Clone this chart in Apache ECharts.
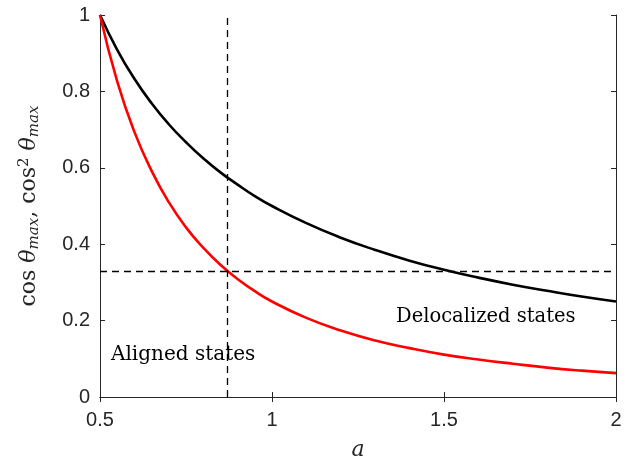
<!DOCTYPE html>
<html>
<head>
<meta charset="utf-8">
<script src="https://cdn.jsdelivr.net/npm/echarts@6/dist/echarts.min.js"></script>
<style>
  html, body { margin: 0; padding: 0; background: #fff; }
  #chart { width: 644px; height: 456px; }
</style>
</head>
<body>
<div id="chart"></div>
<script>
// values
const aValues = [0.5, 0.55, 0.6, 0.65, 0.7, 0.75, 0.8, 0.85, 0.9, 0.95, 1.0,
  1.1, 1.2, 1.3, 1.4, 1.5, 1.6, 1.7, 1.8, 1.9, 2.0]
const cosMax = [1, 0.909, 0.833, 0.769, 0.714, 0.667, 0.625, 0.588, 0.556, 0.526, 0.5,
  0.455, 0.417, 0.385, 0.357, 0.333, 0.3125, 0.294, 0.278, 0.263, 0.25]
const cos2Max = [1, 0.826, 0.694, 0.592, 0.51, 0.444, 0.391, 0.346, 0.309, 0.277, 0.25,
  0.207, 0.174, 0.148, 0.128, 0.111, 0.098, 0.087, 0.077, 0.069, 0.0625]
const vLineA = 0.866 // vertical dashed line
const hLineY = 0.333 // horizontal dashed line
const xTicks = [0.5, 1, 1.5, 2]
const yTicks = [0, 0.2, 0.4, 0.6, 0.8, 1]

const chart = echarts.init(document.getElementById('chart'))
const axisColor = '#262626'
const tickFont = { fontFamily: 'Liberation Sans', fontSize: 20, color: '#262626' }
const serif = 'DejaVu Serif'

const toPairs = ys => aValues.map((a, i) => [a, ys[i]])

const baseX = {
  type: 'value', min: 0.5, max: 2, interval: 0.5,
  axisLine: { show: true, lineStyle: { color: axisColor, width: 1 } },
  axisTick: { show: true, inside: true, length: 5, lineStyle: { color: axisColor } },
  splitLine: { show: false }
}
const baseY = {
  type: 'value', min: 0, max: 1, interval: 0.2,
  axisLine: { show: true, lineStyle: { color: axisColor, width: 1 } },
  axisTick: { show: true, inside: true, length: 5, lineStyle: { color: axisColor } },
  splitLine: { show: false }
}

const option = {
  animation: false,
  grid: { left: 100, top: 15, right: 28, bottom: 59, containLabel: false, outerBoundsMode: 'none' },
  xAxis: [
    Object.assign({}, baseX, {
      position: 'bottom',
      name: 'a', nameLocation: 'middle', nameGap: 42,
      nameTextStyle: { fontFamily: serif, fontStyle: 'italic', fontSize: 22, color: '#262626' },
      axisLabel: Object.assign({ margin: 13, formatter: v => xTicks.includes(v) ? String(v) : '' }, tickFont)
    }),
    Object.assign({}, baseX, { position: 'top', axisLabel: { show: false } })
  ],
  yAxis: [
    Object.assign({}, baseY, {
      position: 'left',
      name: '{n|cos }{i|θ}{s|max}{n|, cos}{p|2}{n| }{i|θ}{s|max}',
      nameLocation: 'middle', nameGap: 58, nameRotate: 90,
      nameTextStyle: {
        color: '#262626',
        rich: {
          n: { fontFamily: serif, fontSize: 22, color: '#262626' },
          i: { fontFamily: serif, fontSize: 22, fontStyle: 'italic', color: '#262626' },
          s: { fontFamily: serif, fontSize: 15, fontStyle: 'italic', color: '#262626', padding: [10, 0, 0, 0] },
          p: { fontFamily: serif, fontSize: 15, color: '#262626', padding: [0, 0, 10, 0] }
        }
      },
      axisLabel: Object.assign({ margin: 10, formatter: v => yTicks.includes(+v.toFixed(1)) ? String(+v.toFixed(1)) : '' }, tickFont)
    }),
    Object.assign({}, baseY, { position: 'right', axisLabel: { show: false } })
  ],
  series: [
    {
      type: 'line', name: 'cos', data: toPairs(cosMax),
      smooth: true, showSymbol: false,
      lineStyle: { color: '#000', width: 2.6 },
      markLine: {
        silent: true, symbol: 'none', label: { show: false },
        lineStyle: { color: '#000', type: [7, 5], width: 1.3 },
        data: [{ xAxis: vLineA }, { yAxis: hLineY }]
      }
    },
    {
      type: 'line', name: 'cos2', data: toPairs(cos2Max),
      smooth: true, showSymbol: false,
      lineStyle: { color: '#ff0000', width: 2.6 }
    }
  ],
  graphic: [
    { type: 'text', left: 111, top: 345, style: { text: 'Aligned states', font: '20px "DejaVu Serif"', fill: '#000' } },
    { type: 'text', left: 396, top: 307, style: { text: 'Delocalized states', font: '19.5px "DejaVu Serif"', fill: '#000' } }
  ]
}
chart.setOption(option)
</script>
</body>
</html>
